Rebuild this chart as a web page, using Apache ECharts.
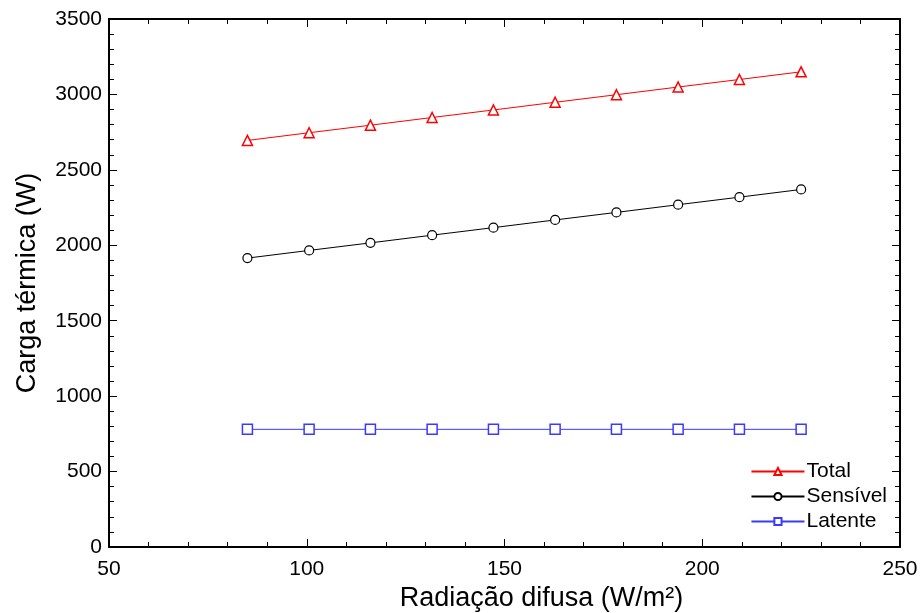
<!DOCTYPE html>
<html><head><meta charset="utf-8">
<script src="https://cdn.jsdelivr.net/npm/echarts@6/dist/echarts.min.js"></script>
<style>html,body{margin:0;padding:0;background:#fff;overflow:hidden}#c{width:921px;height:613px}</style>
</head><body><div id="c"></div>
<script>
const radiacao = [85, 100.6, 116.1, 131.7, 147.2, 162.8, 178.3, 193.9, 209.4, 225];
const total = [2695, 2746, 2796, 2847, 2897, 2948, 2998, 3049, 3099, 3150];
const sensivel = [1915, 1966, 2016, 2067, 2117, 2168, 2218, 2269, 2319, 2370];
const latente = [780, 780, 780, 780, 780, 780, 780, 780, 780, 780];
const seriesNames = ['Total', 'Sensível', 'Latente'];
const xTitle = 'Radiação difusa (W/m²)';
const yTitle = 'Carga térmica (W)';

const font = 'Arial, "Liberation Sans", sans-serif';
const pair = (xs, ys) => xs.map((x, i) => [x, ys[i]]);
const axisCommon = {
  axisLine: { show: true, onZero: false, lineStyle: { color: '#000', width: 2 } },
  axisTick: { show: true, inside: true, length: 8, lineStyle: { color: '#000', width: 1 } },
  minorTick: { show: true, splitNumber: 5, length: 5, lineStyle: { color: '#000', width: 1 } },
  splitLine: { show: false }
};
const chart = echarts.init(document.getElementById('c'), null, { renderer: 'canvas' });
chart.setOption({
  animation: false,
  backgroundColor: '#fff',
  grid: { left: 109, right: 21, top: 19, bottom: 66, containLabel: false, outerBoundsMode: 'none' },
  legend: {
    right: 29, bottom: 76, orient: 'vertical', itemWidth: 53, itemHeight: 9, itemGap: 4,
    textStyle: { fontFamily: font, fontSize: 21, color: '#000', padding: [0, 0, 0, -3] },
    data: seriesNames
  },
  xAxis: [
    Object.assign({}, axisCommon, {
      type: 'value', min: 50, max: 250, interval: 50, position: 'bottom',
      name: xTitle, nameLocation: 'middle', nameGap: 38,
      nameTextStyle: { fontFamily: font, fontSize: 27, color: '#000', padding: [0, 0, 0, 74] },
      axisLabel: { fontFamily: font, fontSize: 21, color: '#000', margin: 12 }
    }),
    Object.assign({}, axisCommon, {
      type: 'value', min: 50, max: 250, interval: 50, position: 'top',
      axisLabel: { show: false }
    })
  ],
  yAxis: [
    Object.assign({}, axisCommon, {
      type: 'value', min: 0, max: 3500, interval: 500, position: 'left',
      name: yTitle, nameLocation: 'middle', nameGap: 68,
      nameTextStyle: { fontFamily: font, fontSize: 27, color: '#000' },
      axisLabel: { fontFamily: font, fontSize: 21, color: '#000', margin: 7, formatter: v => String(v) }
    }),
    Object.assign({}, axisCommon, {
      type: 'value', min: 0, max: 3500, interval: 500, position: 'right',
      axisLabel: { show: false }
    })
  ],
  series: [
    { name: seriesNames[0], type: 'line', data: pair(radiacao, total), symbol: 'triangle', symbolSize: 10,
      lineStyle: { color: '#ff0000', width: 1 }, itemStyle: { color: '#fff', borderColor: '#ff0000', borderWidth: 1.5 } },
    { name: seriesNames[1], type: 'line', data: pair(radiacao, sensivel), symbol: 'circle', symbolSize: 9,
      lineStyle: { color: '#000', width: 1 }, itemStyle: { color: '#fff', borderColor: '#000', borderWidth: 1.2 } },
    { name: seriesNames[2], type: 'line', data: pair(radiacao, latente), symbol: 'rect', symbolSize: 10,
      lineStyle: { color: '#3a3aff', width: 1 }, itemStyle: { color: '#fff', borderColor: '#3a3aff', borderWidth: 1.5 } }
  ]
});
</script></body></html>
